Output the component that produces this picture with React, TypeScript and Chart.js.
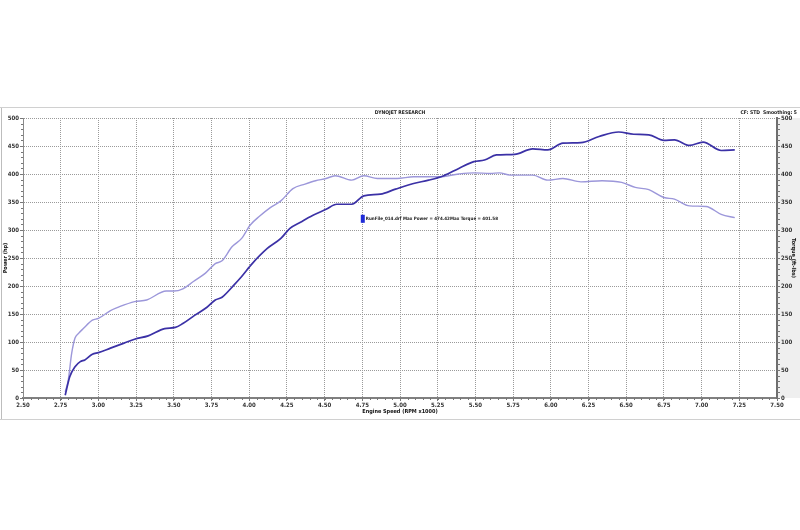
import React, { useEffect, useRef } from "react";
import { Chart, registerables } from "chart.js";

Chart.register(...registerables);

// ---- data ----
const powerRpm = [
  2.78, 2.81, 2.845, 2.88, 2.91, 2.96, 3.0, 3.08, 3.17, 3.24, 3.33, 3.44, 3.51,
  3.56, 3.64, 3.72, 3.775, 3.82, 3.9, 3.95, 4.02, 4.12, 4.21, 4.27, 4.34, 4.42,
  4.51, 4.58, 4.68, 4.76, 4.87, 4.97, 5.09, 5.19, 5.29, 5.39, 5.49, 5.56, 5.64,
  5.76, 5.88, 5.98, 6.08, 6.2, 6.32, 6.45, 6.55, 6.65, 6.75, 6.82, 6.92, 7.01,
  7.13, 7.22,
];
const powerHp = [
  5, 38, 56, 65, 68, 78, 81, 89, 98, 105, 111, 124, 126, 133, 148, 162, 175,
  180, 202, 217, 240, 267, 285, 303, 314, 326, 337, 346, 346, 361, 364, 373,
  383, 389, 397, 410, 422, 425, 434, 435, 445, 443, 455, 456, 467, 475, 471,
  470, 460, 461, 451, 457, 442, 443,
];
const torqueRpm = [
  2.78, 2.8, 2.823, 2.845, 2.867, 2.9, 2.96, 3.0, 3.08, 3.14, 3.24, 3.32, 3.45,
  3.5, 3.56, 3.63, 3.71, 3.775, 3.82, 3.886, 3.95, 4.007, 4.07, 4.14, 4.21,
  4.29, 4.37, 4.44, 4.51, 4.57, 4.68, 4.76, 4.85, 4.98, 5.09, 5.26, 5.39, 5.49,
  5.6, 5.66, 5.73, 5.88, 5.98, 6.08, 6.2, 6.34, 6.47, 6.56, 6.65, 6.75, 6.82,
  6.92, 7.03, 7.13, 7.22,
];
const torqueFtLb = [
  11, 32, 80, 107, 115, 124, 139, 142, 156, 163, 172, 175, 191, 191, 195, 208,
  223, 240, 245, 270, 285, 309, 325, 340, 352, 374, 382, 388, 392, 397, 389,
  397, 392, 392, 395, 395, 400, 402, 401, 402, 398, 398, 389, 392, 386, 388,
  385, 376, 372, 358, 355, 343, 342, 328, 322,
];

const rpmRange = [2.5, 7.5];
const rpmStep = 0.25;
const valueRange = [0, 500];
const valueStep = 50;

const chartTitle = "DYNOJET RESEARCH";
const chartNote = "CF: STD  Smoothing: 5";
const legendText = "RunFile_014.drf Max Power = 474.42Max Torque = 401.58";
const legendAnchor = [4.74, 320]; // in data units (rpm x1000, value)
const xTitle = "Engine Speed (RPM x1000)";
const yTitle = "Power (hp)";
const y1Title = "Torque (ft-lbs)";

const POWER_COLOR = "#3b31a6";
const TORQUE_COLOR = "#9c97da";
const FONT = "'Liberation Sans Narrow', 'DejaVu Sans Condensed', Arial, sans-serif";

const decorPlugin = {
  id: "decor",
  beforeDraw(chart: any) {
    const { ctx, chartArea: a, width, height } = chart;
    ctx.save();
    ctx.fillStyle = "#ffffff";
    ctx.fillRect(0, 0, width, height);
    ctx.fillStyle = "#efefef";
    ctx.fillRect(a.right + 1, a.top, width - a.right - 1, a.bottom - a.top);
    ctx.strokeStyle = "#d0d0d0";
    ctx.lineWidth = 1;
    ctx.beginPath();
    ctx.moveTo(0, a.top - 10.5);
    ctx.lineTo(width, a.top - 10.5);
    ctx.moveTo(0, a.bottom + 21.5);
    ctx.lineTo(width, a.bottom + 21.5);
    ctx.stroke();
    ctx.strokeStyle = "#bdbdbd";
    ctx.beginPath();
    ctx.moveTo(1.5, a.top - 10);
    ctx.lineTo(1.5, a.bottom + 21);
    ctx.stroke();
    ctx.restore();
  },
  afterDraw(chart: any) {
    const { ctx, chartArea: a, scales } = chart;
    const xs = scales.x;
    const ys = scales.y;
    ctx.save();
    // minor ticks
    ctx.strokeStyle = "#777";
    ctx.lineWidth = 1;
    ctx.beginPath();
    for (let i = 0; i <= 100; i++) {
      const v = rpmRange[0] + (i * (rpmRange[1] - rpmRange[0])) / 100;
      const px = Math.round(xs.getPixelForValue(v)) + 0.5;
      ctx.moveTo(px, a.bottom);
      ctx.lineTo(px, a.bottom + 2);
    }
    for (let i = 0; i <= 50; i++) {
      const v = valueRange[0] + (i * (valueRange[1] - valueRange[0])) / 50;
      const py = Math.round(ys.getPixelForValue(v)) + 0.5;
      ctx.moveTo(a.left - 2, py);
      ctx.lineTo(a.left, py);
      ctx.moveTo(a.right, py);
      ctx.lineTo(a.right + 3, py);
    }
    ctx.stroke();

    // titles
    ctx.fillStyle = "#222";
    ctx.font = `bold 5px ${FONT}`;
    ctx.textBaseline = "middle";
    ctx.textAlign = "center";
    ctx.fillText(chartTitle, (a.left + a.right) / 2, a.top - 5);
    ctx.textAlign = "right";
    ctx.fillText(chartNote, chart.width - 3, a.top - 5);

    // legend
    const lx = xs.getPixelForValue(legendAnchor[0]);
    const ly = ys.getPixelForValue(legendAnchor[1]);
    ctx.fillStyle = "#1f2bd8";
    ctx.fillRect(lx, ly - 4, 4, 8);
    ctx.fillStyle = "#222";
    ctx.textAlign = "left";
    ctx.font = `bold 4.5px ${FONT}`;
    ctx.fillText(legendText, lx + 5, ly);
    ctx.restore();
  },
};

export default function App() {
  const ref = useRef<HTMLCanvasElement>(null);

  useEffect(() => {
    if (!ref.current) return;
    const tickFont = { family: FONT, size: 6, weight: "bold" as const };
    const titleFont = { family: FONT, size: 5.5, weight: "bold" as const };
    const chart = new Chart(ref.current, {
      type: "line",
      data: {
        datasets: [
          {
            label: "Power",
            data: powerRpm.map((x, i) => ({ x, y: powerHp[i] })),
            borderColor: POWER_COLOR,
            borderWidth: 1.7,
            pointRadius: 0,
            cubicInterpolationMode: "monotone",
            yAxisID: "y",
          },
          {
            label: "Torque",
            data: torqueRpm.map((x, i) => ({ x, y: torqueFtLb[i] })),
            borderColor: TORQUE_COLOR,
            borderWidth: 1.4,
            pointRadius: 0,
            cubicInterpolationMode: "monotone",
            yAxisID: "y1",
          },
        ],
      },
      options: {
        responsive: false,
        animation: false,
        devicePixelRatio: 1,
        layout: { padding: { top: 118, bottom: 110, left: 0, right: 0 } },
        plugins: {
          legend: { display: false },
          tooltip: { enabled: false },
          title: { display: false },
        },
        scales: {
          x: {
            type: "linear",
            min: rpmRange[0],
            max: rpmRange[1],
            afterFit: (s: any) => {
              s.height = 22;
            },
            ticks: {
              stepSize: rpmStep,
              autoSkip: false,
              maxRotation: 0,
              padding: 1,
              color: "#333",
              font: tickFont,
              callback: (v: any) => Number(v).toFixed(2),
            },
            grid: {
              color: "#9a9a9a",
              tickLength: 3,
              tickColor: "#777",
              lineWidth: 1,
            },
            border: { display: true, color: "#808080", width: 2, dash: [1, 1] },
            title: {
              display: true,
              text: xTitle,
              color: "#111",
              font: titleFont,
              padding: { top: 0, bottom: 5 },
            },
          },
          y: {
            type: "linear",
            position: "left",
            min: valueRange[0],
            max: valueRange[1],
            afterFit: (s: any) => {
              s.width = 23;
            },
            ticks: {
              stepSize: valueStep,
              padding: 1,
              color: "#333",
              font: tickFont,
            },
            grid: {
              color: "#9a9a9a",
              tickLength: 3,
              tickColor: "#777",
              lineWidth: 1,
            },
            border: { display: true, color: "#8a8a8a", width: 1, dash: [1, 1] },
            title: {
              display: true,
              text: yTitle,
              color: "#111",
              font: titleFont,
              padding: { top: 2, bottom: 0 },
            },
          },
          y1: {
            type: "linear",
            position: "right",
            min: valueRange[0],
            max: valueRange[1],
            afterFit: (s: any) => {
              s.width = 23;
            },
            ticks: {
              stepSize: valueStep,
              padding: 1,
              color: "#333",
              font: tickFont,
            },
            grid: { drawOnChartArea: false, tickLength: 3, tickColor: "#777" },
            border: { display: true, color: "#6e6e6e", width: 2 },
            title: {
              display: true,
              text: y1Title,
              color: "#111",
              font: titleFont,
              padding: { top: 3, bottom: 0 },
            },
          },
        },
      },
      plugins: [decorPlugin],
    });
    return () => chart.destroy();
  }, []);

  return (
    <div
      style={{
        position: "absolute",
        left: 0,
        top: 0,
        width: 800,
        height: 530,
        background: "#fff",
      }}
    >
      <canvas ref={ref} width={800} height={530} style={{ width: 800, height: 530, display: "block" }} />
    </div>
  );
}
